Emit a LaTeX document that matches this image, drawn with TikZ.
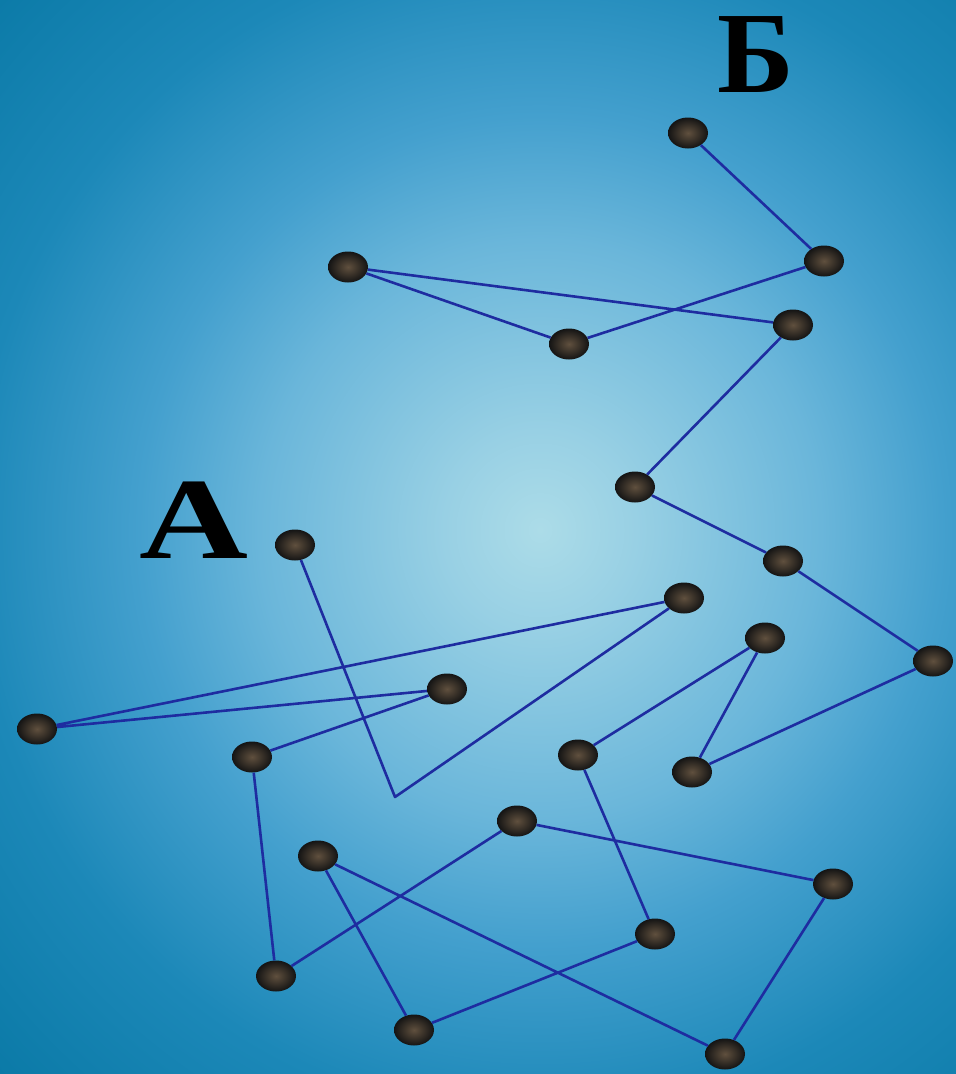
\documentclass[tikz,border=0pt]{standalone}
\usepackage{fontspec}
\setmainfont{Liberation Serif}
\usetikzlibrary{shapes.geometric}
\pgfdeclareradialshading{bgshade}{\pgfpoint{0bp}{0bp}}{%
  color(0bp)=(rgb,255:red,172;green,220;blue,232);
  color(4bp)=(rgb,255:red,152;green,208;blue,228);
  color(11.7bp)=(rgb,255:red,106;green,182;blue,218);
  color(16.7bp)=(rgb,255:red,68;green,160;blue,206);
  color(23.7bp)=(rgb,255:red,28;green,136;blue,184);
  color(31.5bp)=(rgb,255:red,11;green,122;blue,167);
  color(50bp)=(rgb,255:red,10;green,118;blue,162)}
\definecolor{linkblue}{RGB}{30,44,160}
\tikzset{
  dot/.style={ellipse, minimum width=40pt, minimum height=31pt, inner sep=0pt,
    shading=radial, inner color={rgb,255:red,96;green,80;blue,62}, outer color={rgb,255:red,20;green,20;blue,20}},
  link/.style={draw=linkblue, line width=2.6pt, line join=round},
  lbl/.style={anchor=base, inner sep=0pt, font=\fontsize{116}{116}\selectfont\bfseries}
}
\begin{document}
\begin{tikzpicture}[x=1pt,y=-1pt]
\useasboundingbox (0,0) rectangle (956,1074);
\begin{scope}
\clip (0,0) rectangle (956,1074);
\shade[shading=bgshade] (-60,-90) rectangle (1140,1150);
\end{scope}
\node[lbl] (labB) at (756,92) {Б};
\node[lbl, xscale=1.3] (labA) at (194,558) {А};
\node[dot] (p1) at (688,133) {};
\node[dot] (p2) at (824,261) {};
\node[dot] (p3) at (569,344) {};
\node[dot] (p4) at (348,267) {};
\node[dot] (p5) at (793,325) {};
\node[dot] (p6) at (635,487) {};
\node[dot] (p7) at (783,561) {};
\node[dot] (p8) at (933,661) {};
\node[dot] (p9) at (692,772) {};
\node[dot] (p10) at (765,638) {};
\node[dot] (p11) at (578,755) {};
\node[dot] (p12) at (655,934) {};
\node[dot] (p13) at (414,1030) {};
\node[dot] (p14) at (318,856) {};
\node[dot] (p15) at (725,1054) {};
\node[dot] (p16) at (833,884) {};
\node[dot] (p17) at (517,821) {};
\node[dot] (p18) at (276,976) {};
\node[dot] (p19) at (252,757) {};
\node[dot] (p20) at (447,689) {};
\node[dot] (p21) at (37,729) {};
\node[dot] (p22) at (684,598) {};
\coordinate (turn) at (395,797);
\node[dot] (p23) at (295,545) {};
\draw[link] (p1) -- (p2) -- (p3) -- (p4) -- (p5) -- (p6) -- (p7) -- (p8) -- (p9) -- (p10) -- (p11) -- (p12) -- (p13) -- (p14) -- (p15) -- (p16) -- (p17) -- (p18) -- (p19) -- (p20) -- (p21) -- (p22) -- (turn) -- (p23);
\end{tikzpicture}
\end{document}
